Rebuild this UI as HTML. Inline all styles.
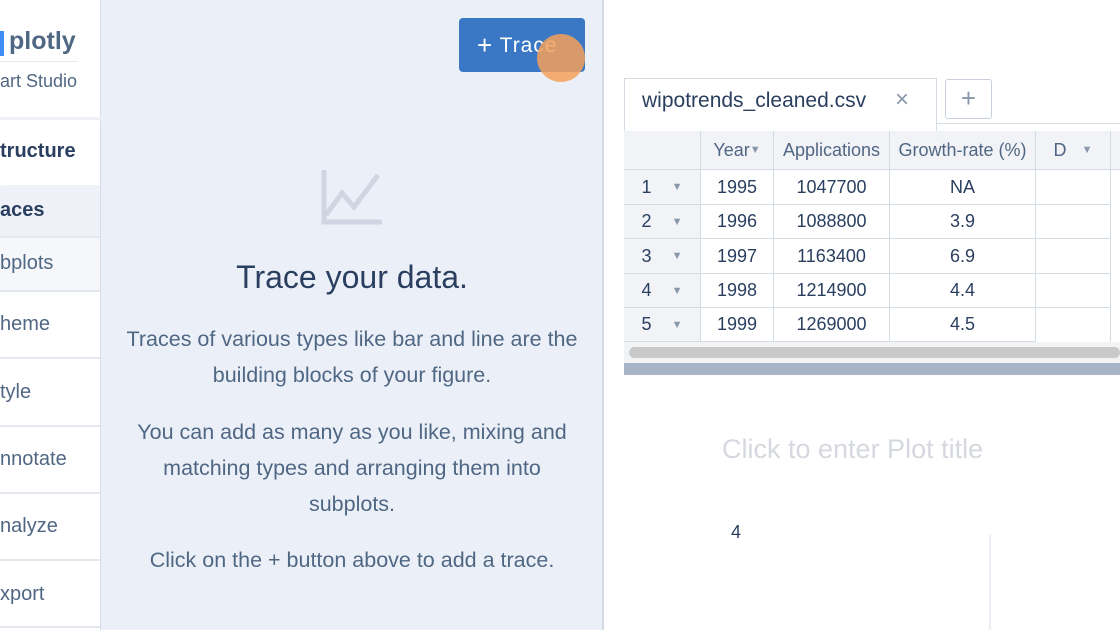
<!DOCTYPE html>
<html><head><meta charset="utf-8"><style>
*{margin:0;padding:0;box-sizing:border-box}
body{width:1120px;height:630px;overflow:hidden;position:relative;background:#fff;font-family:"Liberation Sans","DejaVu Sans",sans-serif;color:#2a3f5f}
.a{position:absolute;white-space:nowrap}
.nav{position:absolute;left:0;width:100px;background:#fff;border-bottom:2px solid #e3e8ef;font-size:20px;color:#506784;padding-left:0}
.nav span{position:absolute;left:0}
.c{position:absolute;text-align:center;font-size:18px;color:#2a3f5f;display:flex;align-items:center;justify-content:center;border-right:1px solid #d5dbe3;border-bottom:1px solid #d5dbe3}
.tri{color:#8a98ab;font-size:11px}
</style></head><body>
<div class="a" style="left:0;top:0;width:101px;height:630px;background:#fff;border-right:1px solid #d8dee8"></div>
<div class="a" style="left:0;top:31px;width:4px;height:25px;background:#3d8df5"></div>
<div class="a" style="left:9px;top:27px;font-size:25px;color:#506784;font-weight:bold">plotly</div>
<div class="a" style="left:0;top:61px;width:78px;height:1px;background:#e6eaf0"></div>
<div class="a" style="left:0;top:71px;font-size:18px;color:#506784">art Studio</div>
<div class="a" style="left:0;top:117px;width:101px;height:3px;background:#eef1f6"></div>
<div class="nav" style="top:120px;height:65px;border-bottom:none;box-shadow:0 4px 6px rgba(0,0,0,.06)"><span style="top:20px;font-weight:bold;color:#2a3f5f">tructure</span></div>
<div class="nav" style="top:186px;height:52px;background:#eef1f7"><span style="top:13px;font-weight:bold;color:#2a3f5f">aces</span></div>
<div class="nav" style="top:238px;height:54px;background:#f5f7fb"><span style="top:14px">bplots</span></div>
<div class="nav" style="top:292px;height:67px"><span style="top:21px">heme</span></div>
<div class="nav" style="top:359px;height:68px"><span style="top:22px">tyle</span></div>
<div class="nav" style="top:427px;height:67px"><span style="top:21px">nnotate</span></div>
<div class="nav" style="top:494px;height:67px"><span style="top:21px">nalyze</span></div>
<div class="nav" style="top:561px;height:67px"><span style="top:22px">xport</span></div>
<div class="a" style="left:101px;top:0;width:503px;height:630px;background:#ebf0f8;border-right:2px solid #d3dae4"></div>
<div class="a" style="left:459px;top:18px;width:126px;height:54px;background:#3a78c6;border-radius:4px;color:#fff;font-size:21px;line-height:54px;padding-left:18px;letter-spacing:1px"><span style="font-size:26px;vertical-align:-2px">+</span> Trace</div>
<div class="a" style="left:537px;top:34px;width:48px;height:48px;border-radius:50%;background:rgba(245,160,90,.85)"></div>
<svg class="a" style="left:320px;top:170px" width="64" height="58"><polyline points="4,0 4,52 62,52" fill="none" stroke="#cfd6e1" stroke-width="5"/><polyline points="6,45 22,23 34,37 58,5" fill="none" stroke="#cfd6e1" stroke-width="5"/></svg>
<div class="a" style="left:101px;width:502px;top:259px;text-align:center;font-size:32px;color:#2a3f5f">Trace your data.</div>
<div class="a" style="left:101px;width:502px;top:321px;text-align:center;font-size:21.5px;line-height:36px;color:#506784;white-space:normal;padding:0 10px">Traces of various types like bar and line are the building blocks of your figure.</div>
<div class="a" style="left:101px;width:502px;top:414px;text-align:center;font-size:21.5px;line-height:36px;color:#506784;white-space:normal;padding:0 30px">You can add as many as you like, mixing and matching types and arranging them into subplots.</div>
<div class="a" style="left:101px;width:502px;top:548px;text-align:center;font-size:21.5px;color:#506784">Click on the + button above to add a trace.</div>
<div class="a" style="left:624px;top:78px;width:313px;height:54px;border:1px solid #d5dbe3;border-bottom:none;background:#fff"></div>
<div class="a" style="left:642px;top:89px;font-size:21px;color:#2a3f5f">wipotrends_cleaned.csv</div>
<div class="a" style="left:895px;top:86px;font-size:24px;color:#8a98ab">×</div>
<div class="a" style="left:945px;top:79px;width:47px;height:40px;border:1px solid #c8d0db;border-radius:3px;color:#8a98ab;text-align:center;font-size:26px;line-height:36px">+</div>
<div class="a" style="left:936px;top:123px;width:184px;height:1px;background:#d5dbe3"></div>
<div class="a" style="left:624px;top:131px;width:496px;height:214px;border-left:1px solid #d5dbe3;border-top:1px solid #d5dbe3;background:#fff"></div>
<div class="a" style="left:624px;top:131px;width:496px;height:39px;background:#f1f3f7"></div>
<div class="a" style="left:624px;top:131px;width:77px;height:214px;background:#f1f3f7"></div>
<div class="c" style="left:624px;top:131px;width:77px;height:39px"></div>
<div class="c" style="left:701px;top:131px;width:73px;height:39px;color:#506784">Year<span class="tri">▼</span></div>
<div class="c" style="left:774px;top:131px;width:116px;height:39px;color:#506784">Applications</div>
<div class="c" style="left:890px;top:131px;width:146px;height:39px;color:#506784">Growth-rate (%)</div>
<div class="c" style="left:1036px;top:131px;width:75px;height:39px;color:#506784">D&nbsp;&nbsp;&nbsp;<span class="tri">▼</span></div>
<div class="c" style="left:1111px;top:131px;width:20px;height:39px"></div>
<div class="c" style="left:624px;top:170px;width:77px;height:35px">1&nbsp;&nbsp;&nbsp;&nbsp;<span class="tri">▼</span></div><div class="c" style="left:701px;top:170px;width:73px;height:35px">1995</div><div class="c" style="left:774px;top:170px;width:116px;height:35px">1047700</div><div class="c" style="left:890px;top:170px;width:146px;height:35px">NA</div><div class="c" style="left:1036px;top:170px;width:75px;height:35px"></div>
<div class="c" style="left:624px;top:205px;width:77px;height:34px">2&nbsp;&nbsp;&nbsp;&nbsp;<span class="tri">▼</span></div><div class="c" style="left:701px;top:205px;width:73px;height:34px">1996</div><div class="c" style="left:774px;top:205px;width:116px;height:34px">1088800</div><div class="c" style="left:890px;top:205px;width:146px;height:34px">3.9</div><div class="c" style="left:1036px;top:205px;width:75px;height:34px"></div>
<div class="c" style="left:624px;top:239px;width:77px;height:35px">3&nbsp;&nbsp;&nbsp;&nbsp;<span class="tri">▼</span></div><div class="c" style="left:701px;top:239px;width:73px;height:35px">1997</div><div class="c" style="left:774px;top:239px;width:116px;height:35px">1163400</div><div class="c" style="left:890px;top:239px;width:146px;height:35px">6.9</div><div class="c" style="left:1036px;top:239px;width:75px;height:35px"></div>
<div class="c" style="left:624px;top:274px;width:77px;height:34px">4&nbsp;&nbsp;&nbsp;&nbsp;<span class="tri">▼</span></div><div class="c" style="left:701px;top:274px;width:73px;height:34px">1998</div><div class="c" style="left:774px;top:274px;width:116px;height:34px">1214900</div><div class="c" style="left:890px;top:274px;width:146px;height:34px">4.4</div><div class="c" style="left:1036px;top:274px;width:75px;height:34px"></div>
<div class="c" style="left:624px;top:308px;width:77px;height:34px">5&nbsp;&nbsp;&nbsp;&nbsp;<span class="tri">▼</span></div><div class="c" style="left:701px;top:308px;width:73px;height:34px">1999</div><div class="c" style="left:774px;top:308px;width:116px;height:34px">1269000</div><div class="c" style="left:890px;top:308px;width:146px;height:34px">4.5</div><div class="c" style="left:1036px;top:308px;width:75px;height:34px;border-bottom:none"></div>
<div class="a" style="left:624px;top:342px;width:496px;height:21px;background:#f1f3f5"></div>
<div class="a" style="left:629px;top:347px;width:491px;height:11px;border-radius:6px;background:#c9c9c9"></div>
<div class="a" style="left:624px;top:363px;width:496px;height:12px;background:#a8b4c8"></div>
<div class="a" style="left:722px;top:434px;font-size:27px;color:#d5d8de">Click to enter Plot title</div>
<div class="a" style="left:731px;top:522px;font-size:18px;color:#2a3f5f">4</div>
<div class="a" style="left:989px;top:535px;width:2px;height:95px;background:#ebeff5"></div>
</body></html>
